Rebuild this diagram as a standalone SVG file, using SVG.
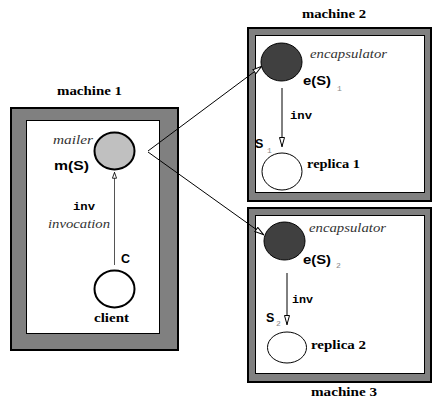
<svg xmlns="http://www.w3.org/2000/svg" width="433" height="399" viewBox="0 0 433 399">
  <style>
    .frame { fill: #808080; stroke: #000; stroke-width: 2; }
    .inner { fill: #fff; stroke: #000; stroke-width: 1; }
    .title { font-family: "Liberation Serif", "Times New Roman", serif; font-weight: bold; font-size: 13px; fill: #000; }
    .role { font-family: "Liberation Serif", "Times New Roman", serif; font-style: italic; font-size: 13px; fill: #333; }
    .name { font-family: "Liberation Sans", Arial, sans-serif; font-weight: bold; font-size: 12.5px; fill: #000; }
    .code { font-family: "Liberation Mono", "Courier New", monospace; font-weight: bold; font-size: 11px; fill: #000; }
    .sub { font-family: "Liberation Mono", "Courier New", monospace; font-size: 8px; fill: #888; }
    .edge { fill: none; stroke: #000; stroke-width: 1; }
  </style>
  <defs>
    <marker id="open-head" viewBox="0 0 10 6" refX="10" refY="3" markerWidth="10" markerHeight="6" markerUnits="userSpaceOnUse" orient="auto">
      <path d="M0.5,0.5 L9.5,3 L0.5,5.5 z" fill="#fff" stroke="#000" stroke-width="1"/>
    </marker>
    <marker id="small-head" viewBox="0 0 8 6" refX="8" refY="3" markerWidth="7" markerHeight="5" markerUnits="userSpaceOnUse" orient="auto">
      <path d="M0.5,0.5 L7.5,3 L0.5,5.5 z" fill="#fff" stroke="#000" stroke-width="1"/>
    </marker>
  </defs>

  <!-- host frames -->
  <g id="machine1">
    <rect class="frame" x="11" y="108" width="167" height="242"/>
    <rect class="inner" x="26.5" y="120.5" width="133" height="213"/>
    <text class="title" x="57" y="94.5" textLength="65" lengthAdjust="spacingAndGlyphs">machine 1</text>
  </g>
  <g id="machine2">
    <rect class="frame" x="248" y="28" width="183" height="173"/>
    <rect class="inner" x="255.5" y="35.5" width="169" height="157"/>
    <text class="title" x="302" y="18" textLength="64" lengthAdjust="spacingAndGlyphs">machine 2</text>
  </g>
  <g id="machine3">
    <rect class="frame" x="248" y="208" width="183" height="174"/>
    <rect class="inner" x="255.5" y="215.5" width="169" height="158"/>
    <text class="title" x="311" y="396" textLength="66" lengthAdjust="spacingAndGlyphs">machine 3</text>
  </g>

  <!-- connectors -->
  <g id="connectors">
    <line x1="114.5" y1="265" x2="114.5" y2="172" stroke="#555" stroke-width="1" marker-end="url(#small-head)"/>
    <line class="edge" x1="148" y1="151" x2="262" y2="66" marker-end="url(#open-head)"/>
    <line class="edge" x1="148" y1="152" x2="264" y2="235" marker-end="url(#open-head)"/>
    <line class="edge" x1="282" y1="88" x2="282" y2="147" marker-end="url(#open-head)"/>
    <line class="edge" x1="287" y1="273" x2="287" y2="325" marker-end="url(#open-head)"/>
    <text class="code" x="73" y="210" textLength="22" lengthAdjust="spacingAndGlyphs">inv</text>
    <text class="role" x="48" y="228" textLength="62" lengthAdjust="spacingAndGlyphs">invocation</text>
    <text class="code" x="290" y="119" textLength="22" lengthAdjust="spacingAndGlyphs">inv</text>
    <text class="code" x="292" y="303" textLength="21" lengthAdjust="spacingAndGlyphs">inv</text>
  </g>

  <!-- machine 1 objects -->
  <g id="mailer">
    <ellipse cx="114.5" cy="151" rx="20" ry="18.5" fill="#c0c0c0" stroke="#000" stroke-width="2"/>
    <text class="role" x="53" y="144" textLength="40" lengthAdjust="spacingAndGlyphs">mailer</text>
    <text class="name" x="54" y="170" textLength="35" lengthAdjust="spacingAndGlyphs">m(S)</text>
  </g>
  <g id="client">
    <ellipse cx="114.5" cy="289" rx="20" ry="18.5" fill="#fff" stroke="#000" stroke-width="2"/>
    <text class="name" x="121" y="263" font-size="14">C</text>
    <text class="title" x="94" y="322" textLength="35" lengthAdjust="spacingAndGlyphs">client</text>
  </g>

  <!-- machine 2 objects -->
  <g id="encapsulator1">
    <ellipse cx="281.5" cy="62" rx="20.5" ry="19" fill="#404040" stroke="#000" stroke-width="1"/>
    <text class="role" x="310" y="58" textLength="77" lengthAdjust="spacingAndGlyphs">encapsulator</text>
    <text class="name" x="303" y="85" textLength="28" lengthAdjust="spacingAndGlyphs">e(S)</text>
    <text class="sub" x="337" y="91">1</text>
  </g>
  <g id="replica1">
    <ellipse cx="282" cy="171.5" rx="20" ry="18.5" fill="#fff" stroke="#000" stroke-width="1"/>
    <text class="name" x="255" y="148" font-size="14">S</text>
    <text class="sub" x="267" y="153">1</text>
    <text class="title" x="307" y="168" textLength="53" lengthAdjust="spacingAndGlyphs">replica 1</text>
  </g>

  <!-- machine 3 objects -->
  <g id="encapsulator2">
    <ellipse cx="284.5" cy="241" rx="20.5" ry="19" fill="#404040" stroke="#000" stroke-width="1"/>
    <text class="role" x="309" y="232" textLength="77" lengthAdjust="spacingAndGlyphs">encapsulator</text>
    <text class="name" x="303" y="264" textLength="28" lengthAdjust="spacingAndGlyphs">e(S)</text>
    <text class="sub" x="336" y="268">2</text>
  </g>
  <g id="replica2">
    <ellipse cx="287" cy="347.5" rx="19.5" ry="15.5" fill="#fff" stroke="#000" stroke-width="1"/>
    <text class="name" x="266" y="322" font-size="14">S</text>
    <text class="sub" x="276" y="326">2</text>
    <text class="title" x="311" y="349" textLength="55" lengthAdjust="spacingAndGlyphs">replica 2</text>
  </g>
</svg>
